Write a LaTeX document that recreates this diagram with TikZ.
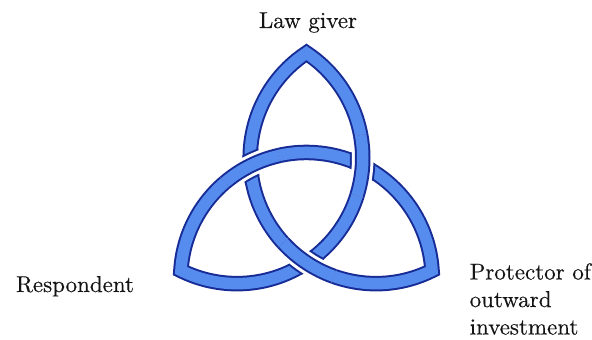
\documentclass[tikz,border=0pt]{standalone}
\usepackage{fontspec}
\newfontfamily\lblfont{lmroman10-regular}[Extension=.otf, FakeBold=0.3]
\definecolor{bandlight}{RGB}{86,140,238}
\definecolor{banddark}{RGB}{24,44,150}
\definecolor{txt}{RGB}{20,20,20}
\tikzset{
  band/.style={draw=banddark, line width=2pt, double=bandlight, double distance=11.5pt, line join=miter, line cap=butt},
  gapstroke/.style={draw=white, line width=21.5pt, line cap=butt},
  capstroke/.style={draw=banddark, line width=25.5pt, line cap=butt},
  lbl/.style={font=\lblfont\fontsize{23}{27.5}\selectfont, inner sep=0pt, text=txt}
}
\begin{document}
\begin{tikzpicture}[x=1pt,y=1pt]
\useasboundingbox (-306.5,-142) rectangle (285.5,198);
% circle centres
\coordinate (c1) at (150:80.3);
\coordinate (c2) at (30:80.3);
\coordinate (c3) at (270:80.3);
% the knot as one continuous strand
\path[band] ([shift={(c1)}]0:125.8)
  arc[start angle=0, end angle=-116.45, radius=125.8]
  arc[start angle=176.45, end angle=3.55, radius=125.8]
  arc[start angle=-63.55, end angle=-236.45, radius=125.8]
  arc[start angle=56.45, end angle=0, radius=125.8];
% crossing upper left: C3 over C2
\begin{scope}
  \clip ([shift={(c2)}]167:118.05) arc[start angle=167, end angle=200, radius=118.05]
        -- ([shift={(c2)}]200:133.55) arc[start angle=200, end angle=167, radius=133.55] -- cycle;
  \path[capstroke] ([shift={(c3)}]102.44:125.8) arc[start angle=102.44, end angle=130.44, radius=125.8];
\end{scope}
\path[gapstroke] ([shift={(c3)}]102.44:125.8) arc[start angle=102.44, end angle=130.44, radius=125.8];
\path[band] ([shift={(c3)}]102.44:125.8) arc[start angle=102.44, end angle=130.44, radius=125.8];
% crossing upper right: C1 over C3
\begin{scope}
  \clip ([shift={(c3)}]48:118.05) arc[start angle=48, end angle=80, radius=118.05]
        -- ([shift={(c3)}]80:133.55) arc[start angle=80, end angle=48, radius=133.55] -- cycle;
  \path[capstroke] ([shift={(c1)}]-17.56:125.8) arc[start angle=-17.56, end angle=10.44, radius=125.8];
\end{scope}
\path[gapstroke] ([shift={(c1)}]-17.56:125.8) arc[start angle=-17.56, end angle=10.44, radius=125.8];
\path[band] ([shift={(c1)}]-17.56:125.8) arc[start angle=-17.56, end angle=10.44, radius=125.8];
% crossing bottom: C2 over C1
\begin{scope}
  \clip ([shift={(c1)}]-72:118.05) arc[start angle=-72, end angle=-40, radius=118.05]
        -- ([shift={(c1)}]-40:133.55) arc[start angle=-40, end angle=-72, radius=133.55] -- cycle;
  \path[capstroke] ([shift={(c2)}]-137.56:125.8) arc[start angle=-137.56, end angle=-109.56, radius=125.8];
\end{scope}
\path[gapstroke] ([shift={(c2)}]-137.56:125.8) arc[start angle=-137.56, end angle=-109.56, radius=125.8];
\path[band] ([shift={(c2)}]-137.56:125.8) arc[start angle=-137.56, end angle=-109.56, radius=125.8];
% labels
\node[lbl, anchor=base] (law) at (1.5,170) {Law giver};
\node[lbl, anchor=base] (resp) at (-231.5,-94) {Respondent};
\node[lbl, anchor=base west, align=left] (prot) at (163,-136.5) {Protector of\\outward\\investment};
\end{tikzpicture}
\end{document}
